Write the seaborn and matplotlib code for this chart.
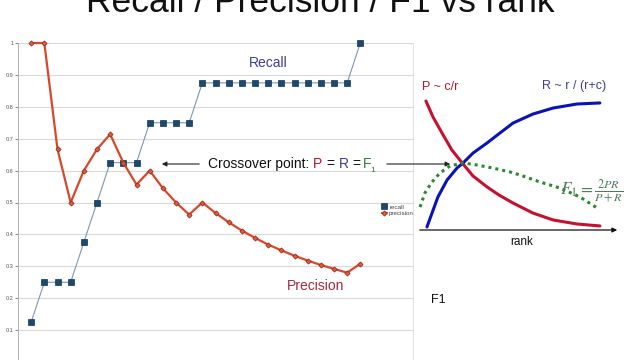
import matplotlib
matplotlib.use('Agg')
import matplotlib.pyplot as plt
import seaborn as sns
import pandas as pd

# ranked retrieval example (8 relevant docs)
rank = list(range(1, 27))
recall = [0.125, 0.25, 0.25, 0.25, 0.375, 0.5, 0.625, 0.625, 0.625,
          0.75, 0.75, 0.75, 0.75,
          0.875, 0.875, 0.875, 0.875, 0.875, 0.875, 0.875, 0.875, 0.875, 0.875, 0.875, 0.875,
          1.0]
precision = [1.0, 1.0, 0.667, 0.5, 0.6, 0.667, 0.714, 0.625, 0.556, 0.6,
             0.545, 0.5, 0.462, 0.5, 0.467, 0.438, 0.412, 0.389, 0.368, 0.35,
             0.333, 0.318, 0.304, 0.292, 0.28, 0.308]
yticks = [0, 0.1, 0.2, 0.3, 0.4, 0.5, 0.6, 0.7, 0.8, 0.9, 1.0]
ytick_labels = ['0', '0.1', '0.2', '0.3', '0.4', '0.5', '0.6', '0.7', '0.8', '0.9', '1']

# schematic curves
p_x = [0.44, 0.79, 1.23, 1.72, 2.27, 2.76, 3.45, 4.04, 4.73, 5.71, 6.70, 7.88, 9.01]
p_y = [0.86, 0.753, 0.647, 0.533, 0.44, 0.36, 0.287, 0.233, 0.18, 0.113, 0.067, 0.04, 0.027]
r_x = [0.49, 0.74, 1.03, 1.48, 1.97, 2.27, 2.76, 3.45, 4.09, 4.73, 5.71, 6.70, 7.88, 9.01]
r_y = [0.02, 0.113, 0.22, 0.333, 0.413, 0.447, 0.513, 0.58, 0.647, 0.713, 0.773, 0.813, 0.84, 0.847]
f_x = [0.15, 0.39, 0.74, 1.13, 1.63, 2.27, 2.96, 3.74, 4.58, 5.07, 6.06, 7.04, 8.03, 8.87]
f_y = [0.153, 0.247, 0.32, 0.38, 0.427, 0.447, 0.433, 0.413, 0.387, 0.367, 0.32, 0.28, 0.22, 0.147]

sns.set_style('white')
plt.rcParams['font.family'] = ['Liberation Sans', 'DejaVu Sans']
plt.rcParams['mathtext.fontset'] = 'stix'

fig = plt.figure(figsize=(6.4, 3.6), dpi=100)
W, H = 640, 360

def px(x, y):
    return x / W, 1 - y / H

# main chart
ax = fig.add_axes([18 / W, -2 / H, (413 - 18) / W, 319 / H])
df = pd.DataFrame({'rank': rank, 'recall': recall, 'precision': precision})
sns.lineplot(data=df, x='rank', y='recall', ax=ax, color='#7d97b3', lw=0.8,
             marker='s', markersize=3.8, markerfacecolor='#1d4870',
             markeredgecolor='#15324f', markeredgewidth=0.5, label='recall', clip_on=False)
sns.lineplot(data=df, x='rank', y='precision', ax=ax, color='#d8472b', lw=1.6,
             marker='D', markersize=2.6, markerfacecolor='#e0603e',
             markeredgecolor='#9c2a1a', markeredgewidth=0.6, label='precision', clip_on=False)
ax.set_xlim(0, 30)
ax.set_ylim(0, 1.0)
ax.set_yticks(yticks)
ax.set_yticklabels(ytick_labels)
ax.set_xticks([])
ax.tick_params(axis='y', labelsize=4, colors='#555555', length=2, width=0.5, pad=1, left=True)
ax.grid(axis='y', color='#d9d9d9', lw=0.8)
ax.set_axisbelow(True)
ax.set_xlabel('')
ax.set_ylabel('')
for side in ['top', 'bottom']:
    ax.spines[side].set_visible(False)
ax.spines['left'].set_color('#b0b0b0')
ax.spines['left'].set_linewidth(0.7)
ax.spines['right'].set_color('#e0e0e0')
ax.spines['right'].set_linewidth(0.7)
ax.legend(loc='center left', bbox_to_anchor=(376 / W, 1 - 210 / H), bbox_transform=fig.transFigure,
          fontsize=4.5, frameon=False, handlelength=0.9, labelspacing=0.15, handletextpad=0.3,
          labelcolor='#444444')

# title (cut off at the top)
fig.text(320 / W, 1 - 12 / H, 'Recall / Precision / F1 vs rank', ha='center', va='baseline',
         fontsize=25.5, color='#111111')

fig.text(*px(268, 63), 'Recall', ha='center', va='center', fontsize=10, color='#3d3d9e')
fig.text(*px(316, 286), 'Precision', ha='center', va='center', fontsize=10, color='#a5283a')

# crossover annotation
base = 1 - 168 / H
fig.text(208 / W, base, 'Crossover point:', va='baseline', fontsize=10, color='#111111')
fig.text(313 / W, base, 'P', va='baseline', fontsize=10, color='#b3172a')
fig.text(326 / W, base, '=', va='baseline', fontsize=10, color='#111111')
fig.text(339 / W, base, 'R', va='baseline', fontsize=10, color='#3d3d9e')
fig.text(352 / W, base, '=', va='baseline', fontsize=10, color='#111111')
fig.text(363 / W, base, 'F', va='baseline', fontsize=10, color='#2e7d32')
fig.text(370 / W, base - 4 / H, '1', va='baseline', fontsize=6, color='#2e7d32')
fig.add_artist(matplotlib.patches.FancyArrowPatch(px(202, 164), px(159, 164), transform=fig.transFigure,
               arrowstyle='-|>', mutation_scale=7, lw=0.8, color='#222222'))
fig.add_artist(matplotlib.patches.FancyArrowPatch(px(384, 164), px(453, 164), transform=fig.transFigure,
               arrowstyle='-|>', mutation_scale=7, lw=0.8, color='#222222'))

# schematic on the right
ax2 = fig.add_axes([417 / W, 130 / H, 203 / W, 150 / H])
ax2.patch.set_alpha(0)
sns.lineplot(x=p_x, y=p_y, ax=ax2, color='#c8102e', lw=2.2, sort=False)
sns.lineplot(x=r_x, y=r_y, ax=ax2, color='#0a14b4', lw=2.2, sort=False)
sns.lineplot(x=f_x, y=f_y, ax=ax2, color='#2b8a2e', lw=2.2, sort=False, linestyle=(0, (1, 1.3)))
ax2.set_xlim(0, 10)
ax2.set_ylim(0, 1)
ax2.set_xticks([])
ax2.set_yticks([])
for s in ax2.spines.values():
    s.set_visible(False)
ax2.annotate('', xy=(1, 0), xytext=(0, 0), xycoords='axes fraction',
             arrowprops=dict(arrowstyle='-|>', lw=0.9, color='#111111', mutation_scale=7),
             annotation_clip=False)

fig.text(*px(440, 87), 'P ~ c/r', ha='center', va='center', fontsize=9, color='#b3172a')
fig.text(*px(574, 86), 'R ~ r / (r+c)', ha='center', va='center', fontsize=9, color='#3d3d9e')
fig.text(*px(522, 242), 'rank', ha='center', va='center', fontsize=8.5, color='#111111')
fig.text(*px(438, 300), 'F1', ha='center', va='center', fontsize=9, color='#111111')
fig.text(*px(592, 191), r'$F_1 = \frac{2PR}{P+R}$', ha='center', va='center', fontsize=12.5,
         color='#4d7a5c')

fig.savefig('out.png', dpi=100)
